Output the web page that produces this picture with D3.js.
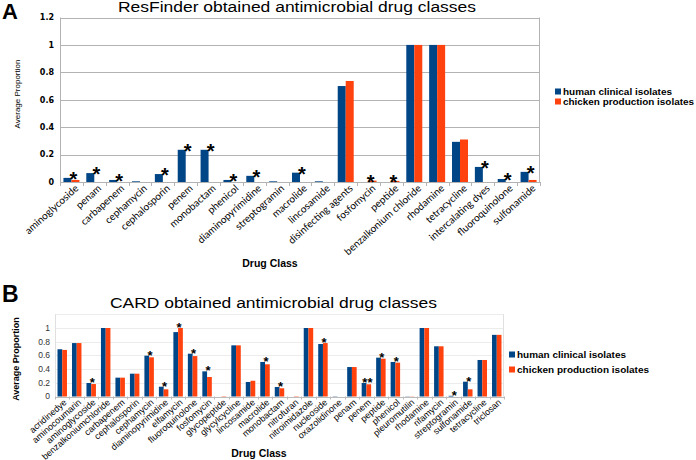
<!DOCTYPE html>
<html><head><meta charset="utf-8">
<script src="https://cdn.jsdelivr.net/npm/d3@7"></script>
<style>body{margin:0;background:#fff} svg{display:block}</style>
</head><body>
<svg id="c" width="696" height="460"></svg>
<script>
// ---------- DATA ----------
const seriesNames = ["human clinical isolates", "chicken production isolates"];
const seriesColors = ["#004586", "#ff420e"];

const catsA = ["aminoglycoside","penam","carbapenem","cephamycin","cephalosporin","penem","monobactam","phenicol","diaminopyrimidine","streptogramin","macrolide","lincosamide","disinfecting agents","fosfomycin","peptide","benzalkonium chloride","rhodamine","tetracycline","intercalating dyes","fluoroquinolone","sulfonamide"];
const humanA   = [0.03,0.065,0.015,0.005,0.058,0.235,0.235,0.015,0.045,0.005,0.068,0.005,0.70,0,0,1,1,0.293,0.11,0.022,0.074];
const chickenA = [0.015,0,0,0,0,0,0,0,0,0,0,0,0.737,0.01,0.008,1,1,0.31,0,0,0.015];
const starsA   = ["*","*","*","","*","*","*","*","*","","*","","","*","*","","","","*","*","*"];
const yTicksA  = [0,0.2,0.4,0.6,0.8,1,1.2];

const catsB = ["acridinedye","aminocoumarin","aminoglycoside","benzalkoniumchloride","carbapenem","cephalosporin","cephamycin","diaminopyrimidine","elfamycin","fluoroquinolone","fosfomycin","glycopeptide","glycylcycline","lincosamide","macrolide","monobactam","nitrofuran","nitroimidazole","nucleoside","oxazolidinone","penam","penem","peptide","phenicol","pleuromutilin","rhodamine","rifamycin","streptogramin","sulfonamide","tetracycline","triclosan"];
const humanB   = [0.69,0.78,0.197,1,0.275,0.333,0.596,0.143,0.94,0.625,0.367,0,0.747,0.212,0.504,0.139,0,1,0.766,0.004,0.43,0.197,0.567,0.504,0.003,1,0.733,0.01,0.216,0.533,0.9];
const chickenB = [0.68,0.78,0.182,1,0.275,0.333,0.572,0.105,1,0.59,0.285,0.005,0.747,0.23,0.47,0.12,0.005,1,0.78,0,0.43,0.178,0.552,0.494,0.003,1,0.733,0,0.105,0.533,0.9];
const starsB   = ["","","*","","","","*","*","*","*","*","","","","*","*","","","*","","","**","*","*","","","","*","*","",""];
const yTicksB  = [0,0.2,0.4,0.6,0.8,1];

// ---------- DRAW ----------
const svg = d3.select("#c");

function panel(o) {
  const g = svg.append("g");
  const x = d3.scaleBand().domain(o.cats).range([o.x0, o.x1]).padding(0);
  const xs = d3.scaleBand().domain([0,1]).range([0, x.bandwidth()]).paddingInner(0).paddingOuter(o.subOuter);
  const y = d3.scaleLinear().domain([0, 1.2]).range([o.y0, o.y1]);

  g.selectAll(".grid").data(o.gridTicks).join("line")
    .attr("x1", o.x0).attr("x2", o.x1)
    .attr("y1", d => Math.round(y(d)) + 0.5).attr("y2", d => Math.round(y(d)) + 0.5)
    .attr("stroke", o.gridColor).attr("stroke-width", 1);
  g.append("line").attr("x1", o.x0 + 0.5).attr("x2", o.x0 + 0.5).attr("y1", y(1.2)).attr("y2", y(0))
    .attr("stroke", o.frameColor);
  g.append("line").attr("x1", o.x1 - 0.5).attr("x2", o.x1 - 0.5).attr("y1", y(1.2)).attr("y2", y(0))
    .attr("stroke", o.frameColor);

  const data = [];
  o.cats.forEach((c, i) => {
    data.push({c, s: 0, v: o.h[i]});
    data.push({c, s: 1, v: o.ch[i]});
  });
  g.selectAll(".bar").data(data).join("rect")
    .attr("x", d => x(d.c) + xs(d.s))
    .attr("width", xs.bandwidth())
    .attr("y", d => y(d.v))
    .attr("height", d => y(0) - y(d.v))
    .attr("fill", d => seriesColors[d.s]);

  g.append("line").attr("x1", o.x0).attr("x2", o.x1)
    .attr("y1", Math.round(y(0)) + 0.5).attr("y2", Math.round(y(0)) + 0.5).attr("stroke", o.axisColor);
  const bounds = o.cats.map(c => x(c)).concat([o.x1]);
  g.selectAll(".tk").data(bounds).join("line")
    .attr("x1", d => Math.round(d) + 0.5).attr("x2", d => Math.round(d) + 0.5)
    .attr("y1", y(0)).attr("y2", y(0) + o.tickLen).attr("stroke", o.axisColor);

  g.selectAll(".yl").data(o.yTicks).join("text")
    .attr("x", o.x0 - o.ylOff).attr("y", d => y(d)).attr("dy", "0.35em")
    .attr("text-anchor", "end")
    .style("font", o.yFont).attr("fill", o.yColor)
    .text(d => d);

  // x labels, font size fitted so a reference label has the measured length
  const xl = g.selectAll(".xl").data(o.cats).join("text")
    .attr("text-anchor", "end")
    .style("font-family", o.xFamily).style("font-size", "10px").attr("fill", "#000")
    .text(d => d);
  const refNode = xl.filter(d => d === o.xRefLabel).node();
  const fs = 10 * o.xRefLen / refNode.getComputedTextLength();
  xl.style("font-size", fs + "px")
    .attr("dy", "0.7em")
    .attr("transform", d => `translate(${x(d) + x.bandwidth()/2 + o.xlDx},${y(0) + o.xlDy}) rotate(${o.xlRot})`);

  g.selectAll(".st").data(o.cats).join("text")
    .attr("x", (d, i) => x(d) + x.bandwidth()/2 + o.starDx)
    .attr("y", (d, i) => y(Math.max(o.h[i], o.ch[i])) + o.starDy)
    .attr("text-anchor", "middle")
    .style("font", o.starFont).attr("fill", "#000")
    .text((d, i) => o.stars[i]);

  g.append("text").attr("x", o.titleX).attr("y", o.titleY)
    .attr("textLength", o.titleLen).attr("lengthAdjust", "spacingAndGlyphs")
    .style("font", o.titleFont).attr("fill", "#000").text(o.title);
  g.append("text").attr("x", o.letterX).attr("y", o.letterY)
    .style("font", o.letterFont).attr("fill", "#000").text(o.letter);
  g.append("text").attr("transform", `translate(${o.ytX},${o.ytY}) rotate(-90)`)
    .attr("text-anchor", "middle").style("font", o.ytFont).attr("fill", "#000").text("Average Proportion");
  g.append("text").attr("x", o.xtX).attr("y", o.xtY).attr("text-anchor", "middle")
    .style("font", "bold 10.5px 'Liberation Sans', Arial, sans-serif").attr("fill", "#000").text("Drug Class");

  const lg = g.append("g").attr("transform", `translate(${o.legX},${o.legY})`);
  seriesNames.forEach((n, i) => {
    lg.append("rect").attr("x", 0).attr("y", i * o.legGap - 6).attr("width", 6).attr("height", 6)
      .attr("fill", seriesColors[i]);
    lg.append("text").attr("x", 8).attr("y", i * o.legGap)
      .attr("textLength", o.legLens[i]).attr("lengthAdjust", "spacingAndGlyphs")
      .style("font", "bold 9px 'Liberation Sans', Arial, sans-serif")
      .attr("fill", "#000").text(n);
  });
}

panel({
  cats: catsA, h: humanA, ch: chickenA, stars: starsA, yTicks: yTicksA, gridTicks: [0.2,0.4,0.6,0.8,1,1.2],
  x0: 60, x1: 540, y0: 182, y1: 17.5, subOuter: 0.43,
  gridColor: "#b3b3b3", frameColor: "#b3b3b3", axisColor: "#b3b3b3", tickLen: 4,
  ylOff: 6, yFont: "bold 8px 'DejaVu Sans', sans-serif", yColor: "#000",
  xlDx: 3, xlDy: 2, xlRot: -42, xFamily: "Lato, 'Liberation Sans', sans-serif",
  xRefLabel: "aminoglycoside", xRefLen: 68,
  starDx: 2, starDy: 8, starFont: "bold 20px 'Liberation Sans', Arial, sans-serif",
  title: "ResFinder obtained antimicrobial drug classes", titleX: 118, titleY: 12, titleLen: 358,
  titleFont: "14px 'Liberation Sans', Arial, sans-serif",
  letter: "A", letterX: 2, letterY: 19, letterFont: "bold 22px 'Liberation Sans', Arial, sans-serif",
  ytX: 20, ytY: 94, ytFont: "8px 'Liberation Sans', Arial, sans-serif",
  xtX: 270, xtY: 267,
  legX: 555, legY: 94.5, legGap: 10, legLens: [109, 131]
});

panel({
  cats: catsB, h: humanB, ch: chickenB, stars: starsB, yTicks: yTicksB, gridTicks: [0.2,0.4,0.6,0.8,1,1.2],
  x0: 55, x1: 504, y0: 396.5, y1: 314.3, subOuter: 0.53,
  gridColor: "#ececec", frameColor: "#e0e0e0", axisColor: "#bbbbbb", tickLen: 3,
  ylOff: 5, yFont: "8.5px 'Liberation Sans', Arial, sans-serif", yColor: "#333",
  xlDx: 1, xlDy: 2, xlRot: -41, xFamily: "'Liberation Sans', Arial, sans-serif",
  xRefLabel: "benzalkoniumchloride", xRefLen: 87,
  starDx: 1, starDy: 4, starFont: "bold 13px 'Liberation Sans', Arial, sans-serif",
  title: "CARD obtained antimicrobial drug classes", titleX: 110, titleY: 308, titleLen: 327,
  titleFont: "14px 'Liberation Sans', Arial, sans-serif",
  letter: "B", letterX: 2, letterY: 302, letterFont: "bold 23px 'Liberation Sans', Arial, sans-serif",
  ytX: 19, ytY: 359, ytFont: "bold 9px 'Liberation Sans', Arial, sans-serif",
  xtX: 259, xtY: 457,
  legX: 509, legY: 357.5, legGap: 15, legLens: [109, 132]
});
</script>
</body></html>
